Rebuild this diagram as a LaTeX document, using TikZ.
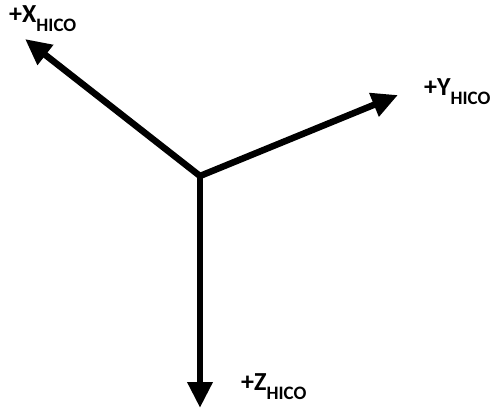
\documentclass[tikz,border=0pt]{standalone}
\usepackage{fontspec}
\setmainfont{Carlito}
\usetikzlibrary{arrows.meta}
\newcommand{\hicosub}{\raisebox{-9pt}{\fontsize{19}{20}\selectfont\bfseries HICO}}
\tikzset{
  axis/.style={line width=6.5pt,-{Triangle[length=26pt,width=24pt]}},
  axlabel/.style={anchor=base west,inner sep=0pt,font=\fontsize{26}{30}\selectfont\bfseries}
}
\begin{document}
\begin{tikzpicture}[x=1pt,y=-1pt]
\useasboundingbox (0,0) rectangle (504,409);
\coordinate (o) at (200,176);
\coordinate (xtip) at (25,39);
\coordinate (ytip) at (398,95);
\coordinate (ztip) at (200,408);
\draw[axis] (o) -- (xtip);
\draw[axis] (o) -- (ytip);
\draw[axis] (o) -- (ztip);
\node[axlabel] (xlab) at (9,23) {+X\hicosub};
\node[axlabel] (ylab) at (424,96) {+Y\hicosub};
\node[axlabel] (zlab) at (241,390) {+Z\hicosub};
\end{tikzpicture}
\end{document}
